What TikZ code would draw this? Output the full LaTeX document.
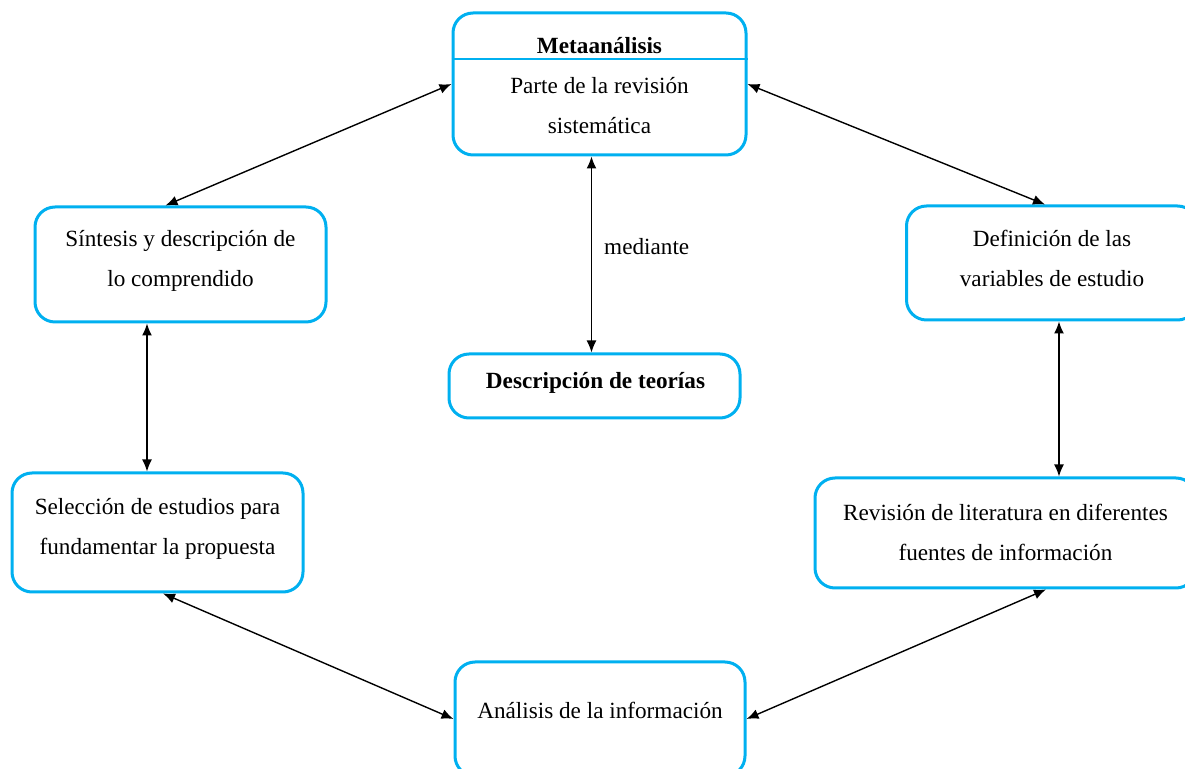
\documentclass[tikz,border=0pt]{standalone}
\usepackage{fontspec}
\setmainfont{Liberation Serif}
\usetikzlibrary{calc,arrows.meta}
\definecolor{boxblue}{RGB}{0,176,240}

\begin{document}
\begin{tikzpicture}[x=0.5pt,y=-0.5pt,font=\fontsize{11.6}{20}\selectfont]
\tikzset{
% rounded boxes, their texts and the double arrows
blue box/.style={draw=boxblue,line width=1.5pt,rounded corners=10pt,minimum width=145.5pt},
box text/.style={align=center,inner sep=0pt},
link/.style={{Latex[length=6pt,width=5pt]}-{Latex[length=6pt,width=5pt]},line width=0.7pt}
}
\useasboundingbox (0,0) rectangle (1185,769);

% The boxes
\node(meta)[blue box,minimum width=146.5pt,minimum height=71pt] at (599.5,84) {};
\node(sint)[blue box,minimum height=57.5pt] at (180.5,264.5) {};
\node(defi)[blue box,minimum height=57pt] at (1052,263) {};
\node(desc)[blue box,minimum height=32pt] at (594.5,386) {};
\node(sele)[blue box,minimum height=59.5pt] at (157.5,532.5) {};
\node(revi)[blue box,minimum width=190.5pt,minimum height=55pt] at (1005.5,533) {};
\node(anal)[blue box,minimum width=145pt,minimum height=57pt] at (600,719) {};
\draw[boxblue,line width=1pt]($(meta.north west)+(0,48)$)--($(meta.north east)+(0,48)$);

% The texts
\node(meta-t)[box text,font=\fontsize{11.6}{20}\selectfont\bfseries] at ($(meta.north)+(0,34)$) {Metaanálisis};
\node(meta-b)[box text] at ($(meta.north)+(0,94)$) {Parte de la revisión\\ sistemática};
\node(sint-t)[box text] at ($(sint.north)+(0,55)$) {Síntesis y descripción de\\ lo comprendido};
\node(defi-t)[box text] at ($(defi.north)+(0,54)$) {Definición de las\\ variables de estudio};
\node(desc-t)[box text,font=\fontsize{11.6}{20}\selectfont\bfseries] at ($(desc.center)+(1,-3)$) {Descripción de teorías};
\node(sele-t)[box text] at ($(sele.north)+(0,57)$) {Selección de estudios para\\ fundamentar la propuesta};
\node(revi-t)[box text] at ($(revi.north)+(0,55.5)$) {Revisión de literatura en diferentes\\ fuentes de información};
\node(anal-t)[box text] at ($(anal.north)+(0,50)$) {Análisis de la información};

% The links
\draw[link](meta.west)--($(sint.north)+(-15,0)$);
\draw[link](meta.east)--($(defi.north)+(-7,0)$);
\draw[link]($(meta.south)+(-8,0)$)--($(desc.north)+(-3,0)$) node[pos=.46,right=6pt,box text]{mediante};
\draw[link]($(sint.south)+(-33.5,0)$)--($(sele.north)+(-10.5,0)$);
\draw[link]($(defi.south)+(7,0)$)--($(revi.north)+(53.5,0)$);
\draw[link]($(sele.south)+(5.5,0)$)--(anal.west);
\draw[link]($(revi.south)+(40.5,0)$)--(anal.east);
\end{tikzpicture}
\end{document}
